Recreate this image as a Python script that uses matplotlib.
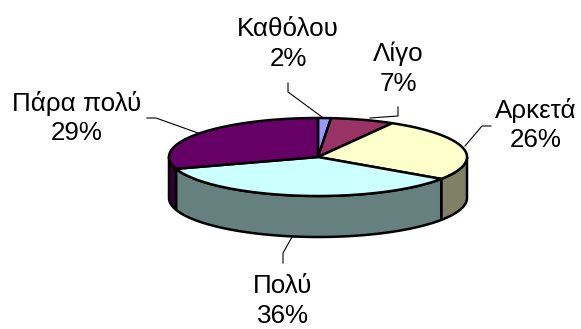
import numpy as np
import matplotlib
import matplotlib.pyplot as plt
from matplotlib.patches import Polygon

matplotlib.use('Agg')
plt.rcParams['font.family'] = ['Liberation Sans', 'DejaVu Sans']

# slices, clockwise from 12 o'clock
categories = ['Καθόλου', 'Λίγο', 'Αρκετά', 'Πολύ', 'Πάρα πολύ']
percent_labels = [2, 7, 26, 36, 29]
values = [1.4, 6.9, 26.2, 35.6, 29.9]
top_colors = ['#9999ff', '#993366', '#ffffcc', '#ccffff', '#660066']
side_colors = ['#666699', '#663344', '#808066', '#668080', '#330033']

# label centre, leader line (pixels in the 581x329 picture)
label_pos = [(288, 44), (398, 69), (536, 125), (283, 301), (77, 118)]
leaders = [
    [(288, 83), (288, 92), (322, 117)],
    [(398, 107), (398, 116), (370, 118)],
    [(491, 126), (482, 126), (465, 146)],
    [(283, 263), (283, 253), (292, 237)],
    [(147, 118), (156, 118), (198, 133)],
]

CX, CY, RX, RY, DEPTH = 318, 157, 149, 39, 41


def arc(a0, a1):
    t = np.linspace(a0, a1, 200)
    return np.column_stack([CX + RX * np.sin(t), CY - RY * np.cos(t)])


fig = plt.figure(figsize=(5.81, 3.29), dpi=100)
ax = fig.add_axes([0, 0, 1, 1])
ax.set_xlim(0, 581)
ax.set_ylim(329, 0)
ax.axis('off')

edges = np.concatenate([[0], np.cumsum(values)]) / sum(values) * 2 * np.pi

# side walls, only the front half of the pie shows
for i in range(len(values)):
    a0 = max(edges[i], np.pi / 2)
    a1 = min(edges[i + 1], 3 * np.pi / 2)
    if a1 <= a0:
        continue
    top = arc(a0, a1)
    low = top[::-1] + [0, DEPTH]
    ax.add_patch(Polygon(np.vstack([top, low]), closed=True, fc=side_colors[i],
                         ec='black', lw=1.8, joinstyle='round', zorder=2))

# top faces
for i in range(len(values)):
    pts = np.vstack([[(CX, CY)], arc(edges[i], edges[i + 1])])
    ax.add_patch(Polygon(pts, closed=True, fc=top_colors[i], ec='black', lw=1.8,
                         joinstyle='round', zorder=3))

for line in leaders:
    xs, ys = zip(*line)
    ax.plot(xs, ys, color='black', lw=0.8, zorder=1)

for name, pct, (x, y) in zip(categories, percent_labels, label_pos):
    ax.text(x, y, f'{name}\n{pct}%', ha='center', va='center', fontsize=18.7,
            color='black', linespacing=1.3, zorder=4)

fig.savefig('out.png', dpi=100, facecolor='white')
